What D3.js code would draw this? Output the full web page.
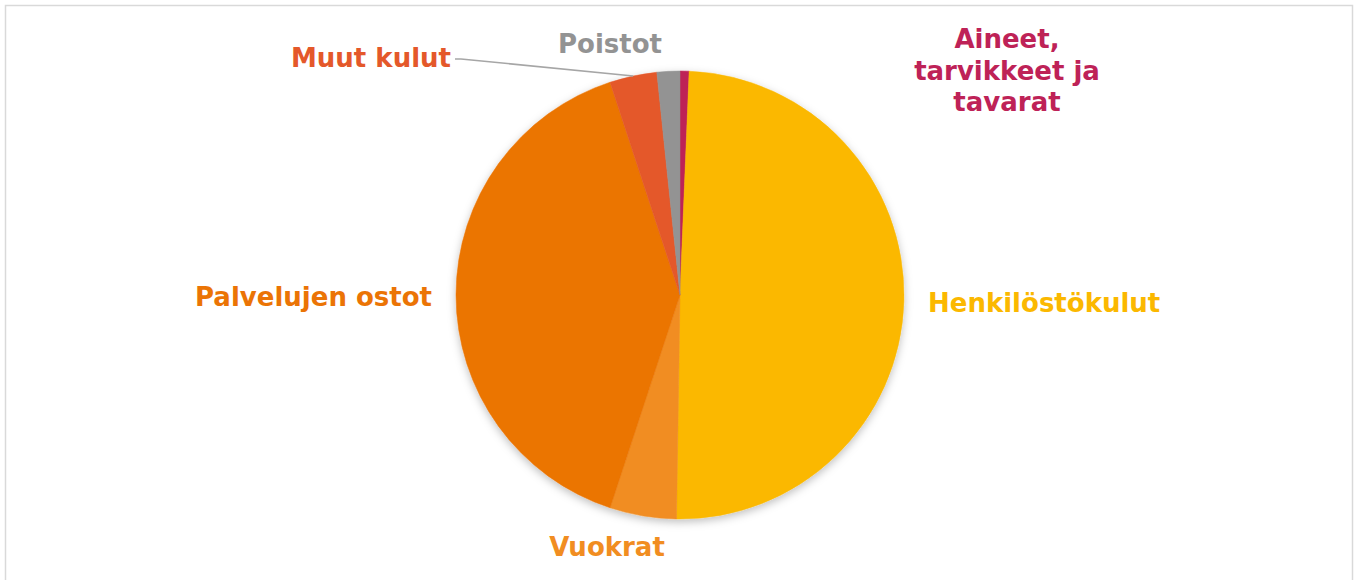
<!DOCTYPE html>
<html>
<head>
<meta charset="utf-8">
<script src="https://cdn.jsdelivr.net/npm/d3@7"></script>
<style>
  body { margin: 0; background: #fff; }
  svg text { font-family: "DejaVu Sans", Verdana, sans-serif; font-weight: bold; }
</style>
</head>
<body>
<div id="chart"></div>
<script>
// Data (share of costs, %), clockwise from 12 o'clock
const categories = ["Aineet, tarvikkeet ja tavarat", "Henkilöstökulut", "Vuokrat", "Palvelujen ostot", "Muut kulut", "Poistot"];
const shares = [0.65, 49.6, 4.8, 39.9, 3.4, 1.65];
const colors = ["#BE2257", "#FBB800", "#F18D21", "#EB7405", "#E4582A", "#939393"];

const width = 1357, height = 580;
const cx = 680, cy = 295, radius = 224;

const svg = d3.select("#chart").append("svg")
    .attr("width", width)
    .attr("height", height);

// chart area border
svg.append("rect")
    .attr("x", 5.5).attr("y", 5.5)
    .attr("width", 1347).attr("height", 600)
    .attr("fill", "none")
    .attr("stroke", "#D9D9D9")
    .attr("stroke-width", 1.5);

// soft shadow under the pie
const defs = svg.append("defs");
const f = defs.append("filter").attr("id", "shadow")
    .attr("x", "-10%").attr("y", "-10%").attr("width", "120%").attr("height", "125%");
f.append("feDropShadow")
    .attr("dx", 0).attr("dy", 3).attr("stdDeviation", 4)
    .attr("flood-color", "#000").attr("flood-opacity", 0.25);

const data = categories.map((c, i) => ({ name: c, value: shares[i], color: colors[i] }));

const pie = d3.pie().value(d => d.value).sort(null);
const arc = d3.arc().innerRadius(0).outerRadius(radius);
const arcs = pie(data);

const g = svg.append("g").attr("transform", `translate(${cx},${cy})`);

g.append("g").attr("filter", "url(#shadow)")
  .selectAll("path")
  .data(arcs)
  .join("path")
    .attr("d", arc)
    .attr("fill", d => d.data.color)
    .attr("stroke", d => d.data.color)
    .attr("stroke-width", 0.5);

// label placement (relative to pie centre): x, y of first baseline, anchor
const labelLayout = {
  "Aineet, tarvikkeet ja tavarat": { x: 327, y: -247, anchor: "middle", lines: ["Aineet,", "tarvikkeet ja", "tavarat"] },
  "Henkilöstökulut": { x: 248, y: 17, anchor: "start" },
  "Vuokrat": { x: -73, y: 261, anchor: "middle" },
  "Palvelujen ostot": { x: -248, y: 11, anchor: "end" },
  "Muut kulut": { x: -229, y: -228, anchor: "end" },
  "Poistot": { x: -70, y: -242, anchor: "middle" }
};

const fontSize = 26, lineHeight = 31.5;

arcs.forEach(d => {
  const L = labelLayout[d.data.name];
  const lines = L.lines || [d.data.name];
  const t = g.append("text")
      .attr("text-anchor", L.anchor)
      .attr("fill", d.data.color)
      .style("font-size", fontSize + "px");
  lines.forEach((s, i) => {
    t.append("tspan").attr("x", L.x).attr("y", L.y + i * lineHeight).text(s);
  });
});

// leader line for "Muut kulut"
const muut = arcs[categories.indexOf("Muut kulut")];
const mid = (muut.startAngle + muut.endAngle) / 2;
const tip = [radius * Math.sin(mid), -radius * Math.cos(mid)];
const L = labelLayout["Muut kulut"];
g.append("polyline")
    .attr("points", [[L.x + 4, L.y - 8], [L.x + 10, L.y - 8], tip].map(p => p.join(",")).join(" "))
    .attr("fill", "none")
    .attr("stroke", "#A6A6A6")
    .attr("stroke-width", 1.5);
</script>
</body>
</html>
